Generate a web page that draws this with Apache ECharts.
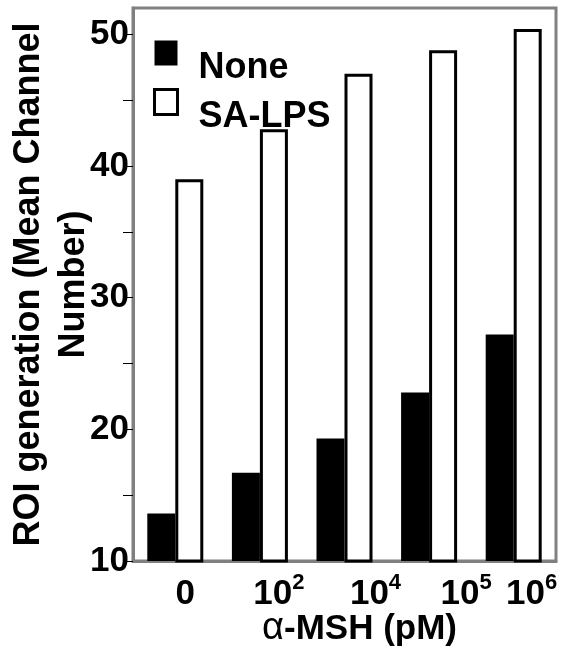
<!DOCTYPE html>
<html>
<head>
<meta charset="utf-8">
<script src="https://cdn.jsdelivr.net/npm/echarts@6/dist/echarts.min.js"></script>
<style>
html,body{margin:0;padding:0;background:#fff;}
#chart{width:572px;height:649px;}
</style>
</head>
<body>
<div id="chart"></div>
<script>
// ---- data ----
var categories = ['0', '10^2', '10^4', '10^5', '10^6'];
var seriesNames = ['None', 'SA-LPS'];
var noneValues = [13.6, 16.7, 19.3, 22.8, 27.2];
var saLpsValues = [39.0, 42.8, 47.0, 48.8, 50.4];
var yTickValues = [10, 15, 20, 25, 30, 35, 40, 45, 50];
var yLabelValues = [10, 20, 30, 40, 50];
var yTitle = 'ROI generation (Mean Channel\nNumber)';
var xTitleGreek = 'α';
var xTitleRest = '-MSH (pM)';

// ---- style ----
var FONT = '"Liberation Sans", Arial, sans-serif';
var labelShift = [10, 19, 31, 37, 18]; // px offsets of category labels (as drawn in original)

var rich = {
  m: {fontSize: 35, fontWeight: 'bold', fontFamily: FONT, color: '#000', lineHeight: 40, verticalAlign: 'bottom'},
  s: {fontSize: 22, fontWeight: 'bold', fontFamily: FONT, color: '#000', lineHeight: 40, verticalAlign: 'top', padding: [0, 0, 14, 0]}
};
labelShift.forEach(function (d, i) {
  rich['p' + i] = {width: 0, padding: [0, 0, 0, 2 * d], lineHeight: 40};
});

var chart = echarts.init(document.getElementById('chart'), null, {renderer: 'canvas'});
chart.setOption({
  animation: false,
  backgroundColor: '#fff',
  textStyle: {fontFamily: FONT},
  grid: {left: 133, right: 16, top: 8, bottom: 88, show: true, borderColor: '#808080', borderWidth: 3, containLabel: false, outerBoundsMode: 'none'},
  legend: {
    orient: 'vertical',
    left: 153,
    top: 20,
    padding: 0,
    itemGap: -17,
    itemWidth: 23,
    itemHeight: 25,
    icon: 'rect',
    data: [
      {name: seriesNames[0], itemStyle: {color: '#000', borderWidth: 0}},
      {name: seriesNames[1], itemStyle: {color: '#fff', borderColor: '#000', borderWidth: 3}}
    ],
    formatter: function (name) { return '{t|' + name + '}'; },
    textStyle: {
      rich: {
        t: {fontSize: 36, fontWeight: 'bold', fontFamily: FONT, color: '#000', lineHeight: 30, padding: [30, 0, 0, 16]}
      }
    }
  },
  xAxis: {
    type: 'category',
    data: categories,
    axisLine: {show: true, lineStyle: {color: '#808080', width: 3}},
    axisTick: {show: false},
    axisLabel: {
      margin: 11,
      interval: 0,
      formatter: function (v, i) {
        var parts = v.split('^');
        var s = '{p' + i + '|}{m|' + parts[0] + '}';
        if (parts[1]) s += '{s|' + parts[1] + '}';
        return s;
      },
      rich: rich
    },
    name: '{g|' + xTitleGreek + '}{b|' + xTitleRest + '}',
    nameLocation: 'middle',
    nameGap: 48,
    nameMoveOverlap: false,
    nameTextStyle: {
      padding: [0, 0, 0, 30],
      rich: {
        g: {fontSize: 38, fontWeight: 'normal', fontFamily: FONT, color: '#000', lineHeight: 40},
        b: {fontSize: 35, fontWeight: 'bold', fontFamily: FONT, color: '#000', lineHeight: 40}
      }
    }
  },
  yAxis: {
    type: 'value',
    min: 10,
    max: 52,
    interval: 5,
    splitLine: {show: false},
    axisLine: {show: true, lineStyle: {color: '#808080', width: 3}},
    axisTick: {show: true, inside: false, length: 10, customValues: yTickValues, lineStyle: {color: '#000', width: 1}},
    axisLabel: {
      customValues: yLabelValues,
      margin: 4,
      fontSize: 35,
      fontWeight: 'bold',
      fontFamily: FONT,
      color: '#000'
    },
    name: yTitle,
    nameLocation: 'middle',
    nameRotate: 90,
    nameGap: 36,
    nameMoveOverlap: false,
    nameTextStyle: {fontSize: 36, fontWeight: 'bold', fontFamily: FONT, color: '#000', lineHeight: 45}
  },
  series: [
    {
      name: seriesNames[0],
      type: 'bar',
      data: noneValues,
      barWidth: 28,
      barGap: '0%',
      itemStyle: {color: '#000'}
    },
    {
      name: seriesNames[1],
      type: 'bar',
      data: saLpsValues,
      barWidth: 28,
      itemStyle: {color: '#fff', borderColor: '#000', borderWidth: 3}
    }
  ]
});
</script>
</body>
</html>
